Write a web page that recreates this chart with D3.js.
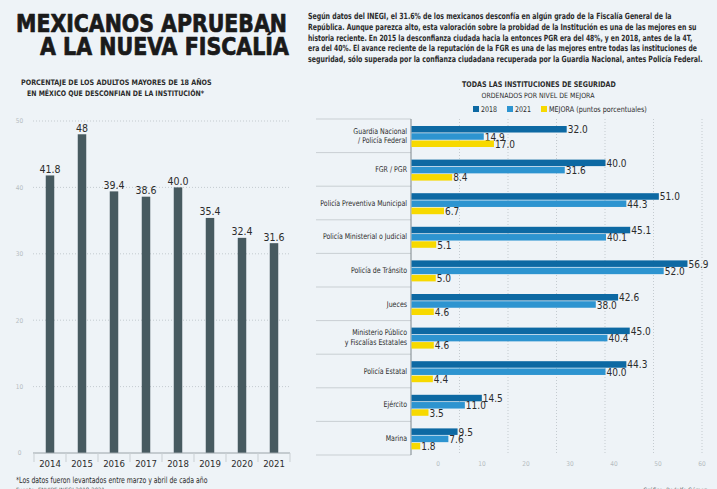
<!DOCTYPE html>
<html>
<head>
<meta charset="utf-8">
<script src="https://cdn.jsdelivr.net/npm/d3@7"></script>
<style>
  html, body { margin: 0; padding: 0; background: #eef3f7; }
  svg { display: block; font-family: "DejaVu Sans Condensed", "Liberation Sans Narrow", Roboto, sans-serif; }
</style>
</head>
<body>
<svg id="chart" width="717" height="489"></svg>
<script>
// ---------- DATA ----------
const titleLines = ["MEXICANOS APRUEBAN", "A LA NUEVA FISCALÍA"];
const introLines = [
  "Según datos del INEGI, el 31.6% de los mexicanos desconfía en algún grado de la Fiscalía General de la",
  "República. Aunque parezca alto, esta valoración sobre la probidad de la Institución es una de las mejores en su",
  "historia reciente. En 2015 la desconfianza ciudada hacia la entonces PGR era del 48%, y en 2018, antes de la 4T,",
  "era del 40%. El avance reciente de la reputación de la FGR es una de las mejores entre todas las instituciones de",
  "seguridad, sólo superada por la confianza ciudadana recuperada por la Guardia Nacional, antes Policía Federal."
];
const leftSubtitle = ["PORCENTAJE DE LOS ADULTOS MAYORES DE 18 AÑOS", "EN MÉXICO QUE DESCONFIAN DE LA INSTITUCIÓN*"];
const years = ["2014", "2015", "2016", "2017", "2018", "2019", "2020", "2021"];
const distrust = [41.8, 48, 39.4, 38.6, 40.0, 35.4, 32.4, 31.6];
const distrustLabels = ["41.8", "48", "39.4", "38.6", "40.0", "35.4", "32.4", "31.6"];
const leftTicks = [0, 10, 20, 30, 40, 50];

const rightTitle = "TODAS LAS INSTITUCIONES DE SEGURIDAD";
const rightSubtitle = "ORDENADOS POR NIVEL DE MEJORA";
const seriesNames = ["2018", "2021", "MEJORA (puntos porcentuales)"];
const institutions = [
  ["Guardia Nacional", "/ Policía Federal"],
  ["FGR / PGR"],
  ["Policía Preventiva Municipal"],
  ["Policía Ministerial o Judicial"],
  ["Policía de Tránsito"],
  ["Jueces"],
  ["Ministerio Público", "y Fiscalías Estatales"],
  ["Policía Estatal"],
  ["Ejército"],
  ["Marina"]
];
const v2018 = [32.0, 40.0, 51.0, 45.1, 56.9, 42.6, 45.0, 44.3, 14.5, 9.5];
const v2021 = [14.9, 31.6, 44.3, 40.1, 52.0, 38.0, 40.4, 40.0, 11.0, 7.6];
const mejora = [17.0, 8.4, 6.7, 5.1, 5.0, 4.6, 4.6, 4.4, 3.5, 1.8];
const rightGrid = [10, 20, 30, 40, 50, 60];
const rightTickLabels = [0, 10, 20, 30, 40, 50, 60];

const footnote = "*Los datos fueron levantados entre marzo y abril de cada año";
const source = "Fuente: ENVIPE INEGI 2018-2021";
const credit = "Gráfico: Rodolfo Gómez";

// ---------- STYLE ----------
const C = {
  bg: "#eef3f7", text: "#2b2b2b", bar: "#475a60", grid: "#b9c0c5", axis: "#9aa3a8",
  tick: "#b5bcc1", s2018: "#0d69a3", s2021: "#2d94d0", mej: "#f7d900", sep: "#c9cfd3"
};
const seriesColors = [C.s2018, C.s2021, C.mej];

const svg = d3.select("#chart");
svg.append("rect").attr("width", 717).attr("height", 489).attr("fill", C.bg);

// place a text at (x,y) and scale it horizontally to a target width
function fitText(parent, str, x, y, width, attrs, anchor) {
  const g = parent.append("g");
  const t = g.append("text").attr("x", 0).attr("y", 0).text(str);
  Object.entries(attrs).forEach(([k, v]) => t.attr(k, v));
  const w = t.node().getComputedTextLength();
  const s = width / w;
  let x0 = x;
  if (anchor === "middle") x0 = x - width / 2;
  if (anchor === "end") x0 = x - width;
  g.attr("transform", `translate(${x0},${y}) scale(${s},1)`);
  return g;
}

// ---------- HEADER ----------
const titleAttrs = { "font-family": "'DejaVu Sans Condensed','DejaVu Sans',sans-serif", "font-weight": "bold", "font-size": 25, "fill": "#1a1a1a", "stroke": "#1a1a1a", "stroke-width": 0.7, "stroke-linejoin": "round" };
fitText(svg, titleLines[0], 16, 31.5, 271, titleAttrs);
fitText(svg, titleLines[1], 40, 54.5, 249, titleAttrs);

const introWidths = [364, 389, 384, 389, 395];
const introY = [19, 30, 40.5, 51, 62];
introLines.forEach((l, i) => fitText(svg, l, 308, introY[i], introWidths[i],
  { "font-weight": "bold", "font-size": 8.6, "fill": C.text }));

// ---------- LEFT CHART ----------
const subAttrs = { "font-weight": "bold", "font-size": 7.6, "fill": C.text };
fitText(svg, leftSubtitle[0], 21, 85, 191, subAttrs);
fitText(svg, leftSubtitle[1], 27, 96, 177, subAttrs);

const xL = d3.scaleBand().domain(years).range([34, 290]).padding(0);
const yL = d3.scaleLinear().domain([0, 50]).range([453, 121]);

const gL = svg.append("g");
gL.selectAll("line.grid").data(leftTicks.filter(t => t > 0)).join("line")
  .attr("x1", 33).attr("x2", 290).attr("y1", d => yL(d)).attr("y2", d => yL(d))
  .attr("stroke", C.grid).attr("stroke-width", 0.8).attr("stroke-dasharray", "1,2");
gL.selectAll("text.ytick").data(leftTicks).join("text")
  .attr("x", 19.5).attr("y", d => yL(d) + 2.3).attr("text-anchor", "middle")
  .attr("font-size", 6.5).attr("fill", C.tick).text(d => d);

const barW = 8.5;
gL.selectAll("rect.bar").data(years).join("rect")
  .attr("x", d => xL(d) + xL.bandwidth() / 2 - barW / 2)
  .attr("y", (d, i) => yL(distrust[i]))
  .attr("width", barW)
  .attr("height", (d, i) => yL(0) - yL(distrust[i]))
  .attr("fill", C.bar);
gL.selectAll("text.val").data(years).join("text")
  .attr("x", d => xL(d) + xL.bandwidth() / 2)
  .attr("y", (d, i) => yL(distrust[i]) - 2.5)
  .attr("text-anchor", "middle").attr("font-size", 10.5).attr("fill", C.text)
  .text((d, i) => distrustLabels[i]);

// x axis
const axL = gL.append("g").attr("transform", `translate(0,${yL(0)})`);
axL.append("line").attr("x1", 33).attr("x2", 290).attr("stroke", C.axis).attr("stroke-width", 1);
const bounds = years.map(d => xL(d)).concat([xL.range()[1]]);
axL.selectAll("line.tk").data(bounds).join("line")
  .attr("x1", d => d).attr("x2", d => d).attr("y1", 0).attr("y2", 9)
  .attr("stroke", "#c9cfd3").attr("stroke-width", 1);
axL.selectAll("text.yr").data(years).join("text")
  .attr("x", d => xL(d) + xL.bandwidth() / 2).attr("y", 13.5)
  .attr("text-anchor", "middle").attr("font-size", 9.5).attr("fill", C.text).text(d => d);

fitText(svg, footnote, 16, 483, 192, { "font-size": 8.5, "fill": C.text });
svg.append("text").attr("x", 16).attr("y", 491.5).attr("font-size", 6).attr("fill", "#555").text(source);

// ---------- RIGHT CHART ----------
fitText(svg, rightTitle, 539, 87, 154, { "font-weight": "bold", "font-size": 7.8, "fill": C.text }, "middle");
fitText(svg, rightSubtitle, 538, 98, 113, { "font-size": 7.2, "fill": C.text }, "middle");

const legX = [473, 507, 541];
const legTW = [16, 16, 98];
svg.append("g").selectAll("rect").data(seriesNames).join("rect")
  .attr("x", (d, i) => legX[i]).attr("y", 106).attr("width", 6).attr("height", 6)
  .attr("fill", (d, i) => seriesColors[i]);
seriesNames.forEach((d, i) => fitText(svg, d, legX[i] + 8, 112, legTW[i], { "font-size": 7.8, "fill": C.text }));

const idx = institutions.map((d, i) => i);
const yR = d3.scaleBand().domain(idx).range([119, 455]).padding(0);
const sub = d3.scaleBand().domain([0, 1, 2]).range([7, 28]).paddingInner(0.1);
const xR = d3.scaleLinear().domain([0, 60]).range([411, 702]);
const xTickPos = d3.scaleLinear().domain([0, 60]).range([438, 702]);

const gR = svg.append("g");
const sepY = idx.map(i => yR(i)).concat([yR.range()[1]]);
gR.selectAll("line.sep").data(sepY).join("line")
  .attr("x1", 316).attr("x2", 411).attr("y1", d => d).attr("y2", d => d)
  .attr("stroke", C.sep).attr("stroke-width", 1);
gR.selectAll("line.grid").data(rightGrid).join("line")
  .attr("x1", d => xR(d)).attr("x2", d => xR(d)).attr("y1", 119).attr("y2", 455)
  .attr("stroke", C.grid).attr("stroke-width", 0.8).attr("stroke-dasharray", "1,2");
gR.append("line").attr("x1", 411).attr("x2", 411).attr("y1", 119).attr("y2", 455)
  .attr("stroke", "#7d868b").attr("stroke-width", 1);
gR.selectAll("text.xt").data(rightTickLabels).join("text")
  .attr("x", d => xTickPos(d)).attr("y", 465.5).attr("text-anchor", "middle")
  .attr("font-size", 6.5).attr("fill", C.tick).text(d => d);

// category labels (condensed horizontally)
institutions.forEach((lines, i) => {
  const cy = yR(i) + yR.bandwidth() / 2;
  const n = lines.length;
  lines.forEach((l, j) => {
    const g = gR.append("g").attr("transform", `translate(407,${cy + (j - (n - 1) / 2) * 9.5 + 2.8}) scale(0.87,1)`);
    g.append("text").attr("text-anchor", "end").attr("font-size", 8).attr("fill", C.text).text(l);
  });
});

// bars
const seriesData = [v2018, v2021, mejora];
seriesData.forEach((vals, s) => {
  gR.selectAll(`rect.s${s}`).data(vals).join("rect")
    .attr("x", xR(0) + 0.5)
    .attr("y", (d, i) => yR(i) + sub(s))
    .attr("width", d => xR(d) - xR(0))
    .attr("height", sub.bandwidth())
    .attr("fill", seriesColors[s]);
  gR.selectAll(`text.l${s}`).data(vals).join("text")
    .attr("x", d => xR(d) + 1.5)
    .attr("y", (d, i) => yR(i) + sub(s) + sub.bandwidth() / 2 + 4)
    .attr("font-size", 10).attr("fill", C.text)
    .text(d => d.toFixed(1));
});

svg.append("text").attr("x", 707).attr("y", 491.5).attr("text-anchor", "end")
  .attr("font-size", 6).attr("fill", "#555").text(credit);
</script>
</body>
</html>
